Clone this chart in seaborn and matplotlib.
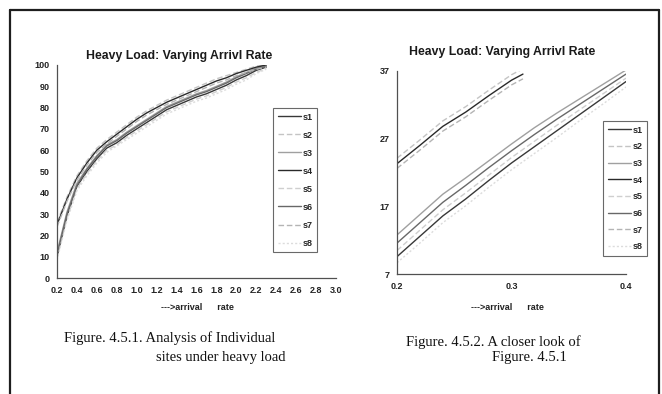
#!/usr/bin/env python3
"""
Heavy load, varying arrival rate: per-site curves (Fig 4.5.1) and zoomed view (Fig 4.5.2).
"""

import numpy as np
import pandas as pd
import matplotlib
matplotlib.use('Agg')
import matplotlib.pyplot as plt
import seaborn as sns

W, H = 662, 394
SITES = ['s1', 's2', 's3', 's4', 's5', 's6', 's7', 's8']

# ---- Fig 4.5.1 : arrival rate 0.2 .. 2.3 ----
rate_full = [0.2, 0.3, 0.4, 0.5, 0.6, 0.7, 0.8, 0.9, 1.0, 1.1, 1.2,
             1.3, 1.4, 1.5, 1.6, 1.7, 1.8, 1.9, 2.0, 2.1, 2.2, 2.3]
full_s1 = [10, 29, 43, 50, 56, 61, 63.5, 67, 70, 73, 76, 79, 81, 83, 85, 86.5, 88.5, 90.5, 93, 95, 97.5, 99]
full_s2 = [26, 38, 48, 55, 61, 65, 68.5, 72, 75.5, 78.5, 81, 83.5, 85.5, 87.5, 89.5, 91.5, 93.5, 95, 96.5, 98, 99.5, 100]
full_s3 = [12, 31, 44.5, 51.5, 57.5, 62.5, 65, 68.5, 71.5, 74.5, 77.5, 80.5, 82.5, 84.5, 86.5, 88, 90, 92, 94.5, 96.5, 98.5, 100]
full_s4 = [25, 37, 47, 54, 60, 64, 67.5, 71, 74.5, 77.5, 80, 82.5, 84.5, 86.5, 88.5, 90.5, 92.5, 94, 96, 97.5, 99, 100]
full_s5 = [9, 28, 42, 49, 55, 60, 62.5, 66, 69, 72, 75, 78, 80, 82, 84, 85.5, 87.5, 89.5, 92, 94, 96.5, 98.5]
full_s6 = [11, 30, 43.5, 51, 57, 62, 64.5, 68, 71, 74, 77, 80, 82, 84, 86, 87.5, 89.5, 91.5, 94, 96, 98, 99.5]
full_s7 = [24, 36, 46, 53, 59, 63, 66.5, 70, 73.5, 76.5, 79, 81.5, 83.5, 85.5, 87.5, 89.5, 91.5, 93, 95, 96.5, 98, 99]
full_s8 = [8.5, 27, 41, 48, 54, 59, 62, 65, 68, 71, 74, 77, 79, 81, 83, 84.5, 86.5, 88.5, 91, 93, 96, 98]

# ---- Fig 4.5.2 : closer look, arrival rate 0.2 .. 0.4 ----
rate_zoom = [0.20, 0.22, 0.24, 0.26, 0.28, 0.30, 0.31, 0.32, 0.34, 0.36, 0.38, 0.40]
nan = np.nan
zoom_s1 = [9.6, 12.6, 15.6, 18.1, 20.8, 23.4, 24.6, 25.8, 28.2, 30.6, 33.0, 35.4]
zoom_s2 = [24.1, 26.8, 29.6, 31.7, 34.1, 36.4, 37.3, nan, nan, nan, nan, nan]
zoom_s3 = [12.8, 15.8, 18.8, 21.2, 23.7, 26.2, 27.4, 28.6, 30.8, 32.9, 35.0, 37.1]
zoom_s4 = [23.3, 26.0, 28.8, 30.9, 33.3, 35.6, 36.5, nan, nan, nan, nan, nan]
zoom_s5 = [10.5, 13.5, 16.5, 19.0, 21.6, 24.2, 25.4, 26.6, 29.0, 31.3, 33.6, 35.9]
zoom_s6 = [11.6, 14.6, 17.6, 20.1, 22.7, 25.2, 26.4, 27.6, 29.9, 32.1, 34.3, 36.5]
zoom_s7 = [22.6, 25.3, 28.1, 30.2, 32.6, 34.9, 35.8, nan, nan, nan, nan, nan]
zoom_s8 = [8.7, 11.6, 14.6, 17.1, 19.8, 22.4, 23.6, 24.8, 27.2, 29.7, 32.1, 34.6]

full = dict(zip(SITES, [full_s1, full_s2, full_s3, full_s4, full_s5, full_s6, full_s7, full_s8]))
zoom = dict(zip(SITES, [zoom_s1, zoom_s2, zoom_s3, zoom_s4, zoom_s5, zoom_s6, zoom_s7, zoom_s8]))

# greyscale print look: (colour, linestyle)
STYLE = {
    's1': ('#383838', '-'),
    's2': ('#c4c4c4', (0, (4, 2))),
    's3': ('#a0a0a0', '-'),
    's4': ('#2a2a2a', '-'),
    's5': ('#cfcfcf', (0, (4, 2))),
    's6': ('#686868', '-'),
    's7': ('#b4b4b4', (0, (4, 2))),
    's8': ('#dcdcdc', (0, (1.5, 1.5))),
}

sns.set_style('white')
plt.rcParams['font.family'] = ['Liberation Sans', 'DejaVu Sans']

SANS = dict(family=['Liberation Sans', 'DejaVu Sans'], weight='bold')
SERIF = dict(family=['Liberation Serif', 'DejaVu Serif'])
TICK_SIZE = 6.5


def fx(px):
    return px / W


def fy(py):
    return 1 - py / H


def draw_panel(ax, x, series, xlim, ylim, xticks, yticks, legend_xy, spacing):
    for site in SITES:
        color, ls = STYLE[site]
        sns.lineplot(x=x, y=series[site], ax=ax, color=color, linestyle=ls,
                     lw=1.0, label=site)
    ax.set_xlim(*xlim)
    ax.set_ylim(*ylim)
    ax.set_xticks(xticks)
    ax.set_xticklabels(['{:.1f}'.format(v) for v in xticks])
    ax.set_yticks(yticks)
    ax.set_xlabel('')
    ax.set_ylabel('')
    for side in ['top', 'right']:
        ax.spines[side].set_visible(False)
    for side in ['left', 'bottom']:
        ax.spines[side].set_color('#505050')
        ax.spines[side].set_linewidth(0.9)
    ax.tick_params(axis='both', direction='out', length=2.5, width=0.8,
                   color='#505050', labelsize=TICK_SIZE, pad=3.0)
    for lab in ax.get_xticklabels() + ax.get_yticklabels():
        lab.set_fontweight('bold')
        lab.set_color('#222222')
    leg = ax.legend(loc='upper left', bbox_to_anchor=legend_xy,
                    bbox_transform=ax.figure.transFigure, frameon=True,
                    fancybox=False, edgecolor='#444444',
                    prop=dict(size=TICK_SIZE, weight='bold'),
                    handlelength=2.6, handletextpad=0.15, labelspacing=spacing,
                    borderpad=0.5, borderaxespad=0)
    leg.get_frame().set_linewidth(0.8)


def main():
    fig = plt.figure(figsize=(W / 100, H / 100), dpi=100)

    ax1 = fig.add_axes([fx(57), fy(278), (336 - 57) / W, (278 - 65) / H])
    ax2 = fig.add_axes([fx(397), fy(274.3), (626 - 397) / W, (274.3 - 70.7) / H])

    draw_panel(ax1, rate_full, full, (0.2, 3.0), (0, 100),
               [round(0.2 + 0.2 * i, 1) for i in range(15)], list(range(0, 101, 10)),
               (fx(273), fy(108)), 1.0)
    draw_panel(ax2, rate_zoom, zoom, (0.2, 0.4), (7, 37),
               [0.2, 0.3, 0.4], [7, 17, 27, 37], (fx(603), fy(121)), 0.85)

    # titles and axis labels
    fig.text(fx(179), fy(59), 'Heavy Load: Varying Arrivl Rate', ha='center',
             va='baseline', size=8.8, color='#1a1a1a', **SANS)
    fig.text(fx(502), fy(55), 'Heavy Load: Varying Arrivl Rate', ha='center',
             va='baseline', size=8.8, color='#1a1a1a', **SANS)
    fig.text(fx(197), fy(307), '--->arrival      rate', ha='center', va='center',
             size=6.5, color='#222222', **SANS)
    fig.text(fx(507), fy(307), '--->arrival      rate', ha='center', va='center',
             size=6.5, color='#222222', **SANS)

    # captions
    fig.text(fx(170), fy(338), 'Figure. 4.5.1. Analysis of Individual', ha='center',
             va='center', size=10.5, color='#111111', **SERIF)
    fig.text(fx(221), fy(357), 'sites under heavy load', ha='center',
             va='center', size=10.5, color='#111111', **SERIF)
    fig.text(fx(493), fy(342), 'Figure. 4.5.2. A closer look of', ha='center',
             va='center', size=10.5, color='#111111', **SERIF)
    fig.text(fx(529), fy(358), 'Figure. 4.5.1', ha='center',
             va='center', size=10.5, color='#111111', **SERIF)

    # page frame
    frame = dict(transform=fig.transFigure, color='#1e1e1e', lw=1.6)
    fig.add_artist(plt.Line2D([fx(10), fx(659)], [fy(9.5), fy(9.5)], **frame))
    fig.add_artist(plt.Line2D([fx(10), fx(10)], [fy(9.5), 0], **frame))
    fig.add_artist(plt.Line2D([fx(659), fx(659)], [fy(9.5), 0], **frame))

    fig.savefig('out.png', dpi=100)
    plt.close(fig)


if __name__ == '__main__':
    main()
